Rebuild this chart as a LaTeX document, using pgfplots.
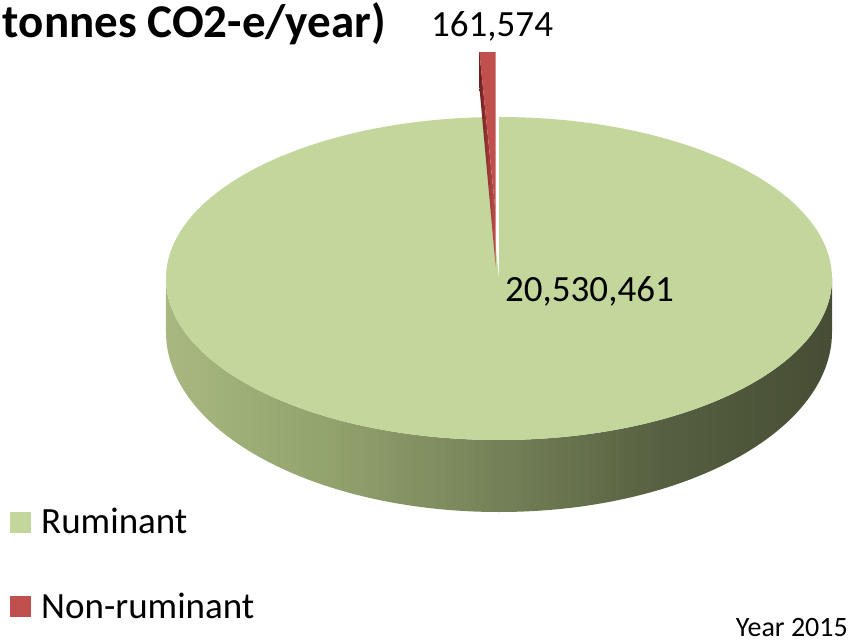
\documentclass[border=0pt]{standalone}
\usepackage{pgfplots}
\pgfplotsset{compat=1.18}
\usepackage{pgfplotstable}
\usepackage{fontspec}
\setmainfont{Carlito}

% slice colours
\definecolor{ruminant}{RGB}{195,214,155}
\definecolor{nonruminant}{RGB}{192,80,77}
\definecolor{nonruminantdark}{RGB}{112,32,31}
% side wall of the disc, light on the left, dark on the right
\definecolor{sideA}{RGB}{168,184,128}
\definecolor{sideB}{RGB}{146,162,109}
\definecolor{sideC}{RGB}{116,129,88}
\definecolor{sideD}{RGB}{86,95,64}
\definecolor{sideE}{RGB}{70,77,52}
\pgfdeclarehorizontalshading{pieside}{100bp}{color(0bp)=(sideA); color(25bp)=(sideA);
  color(37.5bp)=(sideB); color(50bp)=(sideC); color(62.5bp)=(sideD); color(75bp)=(sideE);
  color(100bp)=(sideE)}
\pgfdeclarehorizontalshading{redwall}{100bp}{color(0bp)=(nonruminantdark); color(25bp)=(nonruminantdark);
  color(75bp)=(nonruminant); color(100bp)=(nonruminant)}

% livestock emissions, tonnes CO2-e per year, 2015
\pgfplotstableread{
category value
Ruminant 20530461
Non-ruminant 161574
}\emissions

\newcommand\labelfont{\fontsize{37bp}{44bp}\selectfont}

\begin{document}
\pgfplotstablegetelem{0}{value}\of\emissions \edef\vrum{\pgfplotsretval}%
\pgfplotstablegetelem{1}{value}\of\emissions \edef\vnon{\pgfplotsretval}%
% the non-ruminant slice starts at twelve o'clock and runs anticlockwise
\edef\sweep{\fpeval{round(360*\vnon/(\vrum+\vnon),4)}}%
\edef\astart{\fpeval{90+\sweep}}%
\edef\amid{\fpeval{90+\sweep/2}}%
\begin{tikzpicture}
\begin{axis}[
  hide axis, scale only axis,
  width=850bp, height=643bp,
  xmin=0, xmax=850, ymin=0, ymax=643,
  enlargelimits=false, clip=false,
]
\path (rel axis cs:0,0) coordinate (sw) (rel axis cs:1,1) coordinate (ne);

% side wall of the disc (front half)
\path[shading=pieside]
  (axis cs:166,364.5) arc[start angle=180, end angle=360, x radius=333bp, y radius=161.5bp]
  -- (axis cs:832,311) arc[start angle=0, end angle=-180, x radius=333bp, y radius=180bp]
  -- cycle;

% top face of the ruminant slice
\fill[ruminant] (axis cs:499,364.5) -- ++(\astart:333bp and 161.5bp)
  arc[start angle=\astart, end angle=450, x radius=333bp, y radius=161.5bp] -- cycle;

% exploded non-ruminant slice, pulled out along its bisector
\path (axis cs:499,364.5) ++(\amid:134bp and 65bp) coordinate (rc);
\path[shading=redwall] (rc) -- ++(\astart:333bp and 161.5bp) -- ++(0,-35bp)
  -- ([yshift=-53.5bp]rc) -- cycle;
\fill[nonruminant] (rc) -- ++(90:333bp and 161.5bp)
  arc[start angle=90, end angle=\astart, x radius=333bp, y radius=161.5bp] -- cycle;

% data labels
\node[anchor=base west, font=\labelfont, inner sep=0pt] at (axis cs:431,606) {161,574};
\node[anchor=base west, font=\labelfont, inner sep=0pt] at (axis cs:505,341) {20,530,461};

% title
\node[anchor=base east, font=\fontsize{47bp}{56bp}\selectfont\bfseries, inner sep=0pt]
  at (axis cs:386,605) {tonnes CO2-e/year)};

% legend
\fill[ruminant] (axis cs:10,110) rectangle (axis cs:31,131);
\node[anchor=base west, font=\labelfont, inner sep=0pt] at (axis cs:41,110) {Ruminant};
\fill[nonruminant] (axis cs:10,26) rectangle (axis cs:31,47);
\node[anchor=base west, font=\labelfont, inner sep=0pt] at (axis cs:41,25) {Non-ruminant};

% year note
\node[anchor=base east, font=\fontsize{28bp}{34bp}\selectfont, inner sep=0pt]
  at (axis cs:848,7) {Year 2015};
\end{axis}
\pgfresetboundingbox
\path (sw) rectangle (ne);
\end{tikzpicture}
\end{document}
